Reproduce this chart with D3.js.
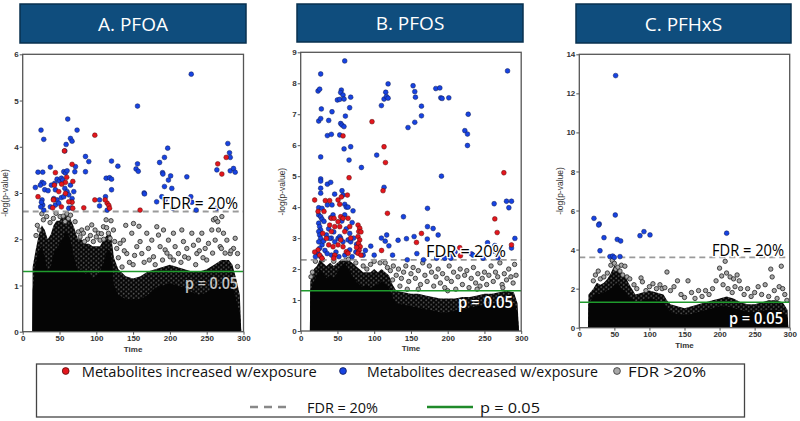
<!DOCTYPE html>
<html><head><meta charset="utf-8">
<script src="https://cdn.jsdelivr.net/npm/d3@7"></script>
<style>
body{margin:0;background:#fff;}
svg{display:block;}
</style></head>
<body>
<svg id="chart" width="800" height="421"></svg>
<script>
// ---------- DATA ----------
const xTicks = [0, 50, 100, 150, 200, 250, 300];
const yTicksA = [0, 1, 2, 3, 4, 5, 6];
const yTicksB = [0, 1, 2, 3, 4, 5, 6, 7, 8, 9];
const yTicksC = [0, 2, 4, 6, 8, 10, 12, 14];
const titles = ["A. PFOA", "B. PFOS", "C. PFHxS"];
const fdrLevels = [2.6, 2.3, 3.6];
const pLevel = 1.301;
const legendLabels = ["Metabolites increased w/exposure", "Metabolites decreased w/exposure", "FDR >20%", "FDR = 20%", "p = 0.05"];

// Panel A: PFOA
const aDec = [[20.8,3.45],[27.2,3.45],[26.3,3.23],[28.6,3.21],[24.0,3.17],[29.9,3.07],[34.5,3.05],[39.0,3.17],[43.5,3.21],[46.7,3.30],[49.9,3.26],[52.6,3.32],[54.4,3.28],[55.8,3.46],[58.1,3.43],[60.3,3.48],[57.2,3.10],[60.3,3.03],[44.4,3.07],[42.2,2.88],[46.7,2.85],[52.6,2.90],[55.8,2.92],[62.6,2.96],[67.1,2.88],[69.4,3.03],[70.8,3.46],[71.7,3.57],[64.9,3.17],[66.2,2.81],[26.3,2.85],[27.2,2.74],[28.6,2.63],[37.6,2.70],[44.4,2.74],[49.0,2.78],[62.6,2.67],[66.2,2.68],[59.0,4.05],[57.2,3.91],[64.9,4.18],[67.1,4.12],[73.9,4.36],[61.2,4.60],[17.2,3.12],[24.9,4.36],[28.6,4.16],[37.6,3.56],[25.5,2.80],[24.5,2.70],
[85.3,3.79],[89.8,3.68],[85.3,3.46],[104.4,2.85],[104.4,2.72],[112.5,2.92],[113.4,3.32],[118.0,3.33],[120.7,3.30],[120.7,3.07],[120.7,3.69],[129.3,3.58],[114.8,2.63],[156,4.88],[156,3.63],[154,3.52],[157,3.47],[165,3.00],[165.5,2.98],[186,3.66],[190,3.44],[190.5,3.41],[192.6,3.77],[197,3.97],[198,3.28],[201,3.37],[192.6,3.14],[202.6,3.10],[189,2.92],[193.5,2.85],[182,2.81],[204,2.67],[223,3.35],[229,5.57],[228.4,2.92],[229.8,2.80],[235.7,2.63],[263.8,2.67],[263.8,3.50],[278.7,4.07],[281,3.87],[282,3.77],[282,3.48],[286.4,3.53],[288.7,3.45],[281,2.85]];
const aInc = [[20.8,2.92],[44.4,3.44],[43.1,3.17],[49.0,3.03],[42.2,2.86],[58.1,3.23],[56.7,3.91],[67.1,3.62],[68.1,3.25],[67.1,2.80],[62.6,2.81],[52.6,2.70],[40.8,2.68],[83.0,2.68],[58.1,2.99],[41.7,2.85],[53.0,3.19],[59.8,3.34],[68.0,2.67],[98,4.25],[98,2.85],[114.8,2.78],[117,2.73],[118,2.67],[112,2.85],[159.5,2.63],[265,3.63],[270.6,3.41],[276.5,3.77],[288.7,2.76]];
const aGrey = [[19.9,2.30],[22.7,2.20],[18.1,2.08],[28.1,2.42],[32.6,2.49],[37.2,2.36],[41.7,2.45],[45.3,2.56],[50.8,2.49],[57.6,2.38],[62.1,2.45],[71.2,2.38],[75.7,2.16],[80.2,2.20],[82.5,2.13],[87.9,2.24],[93.8,2.31],[98.3,2.20],[102.9,2.13],[105.1,1.98],[109.7,2.27],[113.3,2.42],[116.5,2.13],[118.7,2.02],[123.3,2.20],[127.8,1.80],[132.3,1.91],[136.9,1.98],[141.4,1.69],[148.2,2.13],[150.5,2.34],[155,1.84],[159.5,1.95],[161.8,1.69],[168.6,2.13],[170.9,1.80],[175.4,1.98],[177.7,1.62],[182.2,2.27],[184.5,2.09],[186.7,1.84],[191.3,2.20],[193.5,1.77],[198,1.98],[200.3,1.62],[204.8,2.13],[207.1,1.84],[211.6,1.69],[216.2,2.20],[218.4,1.95],[223,1.80],[225.2,1.59],[229.8,2.13],[232,1.87],[236.6,1.69],[238.8,1.98],[243.4,2.13],[247.9,1.80],[252.4,1.91],[256.9,2.20],[259.2,2.42],[261.5,1.98],[266,2.20],[268.3,1.84],[270.6,2.49],[272.8,2.13],[277.4,1.98],[281.9,1.69],[286.4,1.80],[288.7,2.02],[291.9,1.69],[291.9,1.41],
[60,2.55],[65,2.52],[55,2.50],[26,2.55],[120,2.40],[140,2.30],[158,2.28],[262,2.45],[265,2.38],[88,2.00],[96,1.95],[100,2.05],[110,2.00],[130,1.60],[145,1.50],[165,1.50],[190,1.55],[215,1.50],[235,1.45],[250,1.55],[275,1.70],[283,1.75],[245,1.60],[205,1.55],[180,1.45],[150,1.45],[135,1.40],
[78,2.05],[84,1.95],[92,2.08],[107,2.12],[114,2.25],[125,1.95],[138,1.75],[152,1.65],[172,1.55],[196,1.70],[220,1.62],[240,1.75],[258,1.70],[270,1.80]];
const aHalo = [[13,0],[13.5,1.4],[18,1.8],[22,2.1],[26,2.3],[30,2.2],[34,2.0],[38,2.1],[42,2.3],[46,2.4],[50,2.4],[54,2.5],[58,2.5],[62,2.5],[66,2.4],[70,2.25],[75,2.0],[80,2.0],[85,1.9],[90,1.9],[95,1.85],[100,1.85],[105,1.85],[110,2.0],[115,2.1],[120,2.1],[124,1.6],[130,1.35],[140,1.2],[150,1.15],[160,1.2],[170,1.3],[180,1.35],[190,1.4],[200,1.45],[210,1.4],[220,1.35],[230,1.3],[240,1.3],[250,1.35],[260,1.45],[270,1.55],[280,1.55],[285,1.45],[290,1.15],[295,0.8],[297,0]];
const aCore = [[13,0],[13.5,0.9],[18,1.5],[22,1.75],[26,1.85],[30,1.6],[34,1.3],[38,1.4],[42,1.7],[46,1.8],[50,1.9],[54,2.0],[58,2.15],[62,2.1],[66,1.9],[70,1.6],[75,1.3],[80,1.35],[85,1.25],[90,1.3],[95,1.15],[100,1.2],[105,1.3],[110,1.5],[115,1.8],[120,1.7],[124,1.0],[130,0.8],[140,0.7],[150,0.7],[160,0.7],[170,0.8],[180,0.95],[190,1.0],[200,1.05],[210,1.0],[220,0.95],[230,0.85],[240,0.8],[250,0.85],[260,0.95],[270,1.05],[280,1.1],[285,1.0],[290,0.7],[295,0.4],[297,0]];

// Panel B: PFOS
const bDec = [[59.9,8.72],[27.2,8.30],[23.6,7.75],[25.8,7.81],[281.4,8.40],[55.3,7.78],[54.4,7.70],[49.9,7.46],[53.1,7.48],[57.6,7.62],[59.0,7.49],[68.0,7.55],[28.1,7.17],[24.5,6.78],[27.2,6.86],[38.1,6.80],[42.6,7.08],[66.6,7.21],[60.8,6.94],[54.4,6.70],[56.2,6.65],[58.9,6.60],[36.3,6.31],[41.7,6.35],[53.1,6.33],[59.0,5.88],[68.0,5.95],[27.2,5.62],[65.8,5.52],[82.6,5.28],[27.2,4.91],[27.2,4.84],[36.3,4.74],[40.8,4.80],[27.2,4.61],[27.2,4.45],[56.2,4.53],[57.6,4.39],[46.2,4.42],[24.5,3.98],[29.0,3.96],[36.3,4.07],[42.6,4.07],[59.9,4.09],[62.1,4.00],[64.4,4.00],[71.2,3.88],[59.9,3.75],[24.5,3.75],[27.2,3.69],[29.0,3.61],[31.7,3.54],[40.8,3.66],[44.0,3.75],
[103.4,5.68],[109.8,7.28],[113.4,7.49],[115.7,7.71],[118.9,7.98],[116.6,7.57],[118.9,7.52],[113.4,4.64],[146,6.57],[155.2,6.74],[152.9,7.92],[155.2,7.73],[156.1,7.55],[164.3,7.26],[164.3,6.95],[183.8,7.83],[189.3,7.85],[190.6,7.53],[192.4,7.51],[201.5,7.53],[223.3,6.47],[226.9,6.36],[227.9,7.00],[226.9,5.99],[191.5,5.00],[139.8,3.69],[172.5,3.96],[172.5,3.37],[180.2,3.31],[187,3.10],[172.2,2.97],[154.3,3.05],[143.9,2.98],[132.5,2.93],[117,3.10],[115,2.90],[254.2,2.85],[264.1,2.76],[262.3,2.58],[263.2,4.11],[280,4.19],[286.8,4.19],[283.2,3.98],[286.8,2.68],[291.4,2.99],[232.4,2.49],[234.6,2.45],[268.6,2.36],[267.8,2.43],[206.5,2.50],[196,2.35],[248.2,2.35],[204.2,2.35],[95.3,2.74],[109.8,3.00],[120,2.75],[125,2.45],[100,2.45],[145,2.30],[158,2.50],[167,2.30],[185,2.35],[210,2.55],
[24.5,3.48],[25.8,3.37],[27.2,3.26],[24.5,3.21],[25.8,3.10],[27.2,2.99],[24.5,2.88],[29.0,2.78],[25.8,2.67],[23.6,2.50],[27.2,2.40],[41.7,3.00],[39.4,2.99],[46.3,2.88],[50.8,2.99],[53.1,3.05],[54.4,2.99],[57.6,2.88],[64.4,2.94],[66.7,3.15],[68,2.88],[66.7,2.62],[35,3.10],[33,2.60],[48,2.55],[60,2.45],[70,2.40],[75,2.55],[72,3.00],[20,2.40],[85,2.45],[88,2.60],[62,3.30],[70,3.50],[45,3.20],[38,3.30],[31,2.90],[56,3.55],[76,2.80],[52,2.40],[42,2.45],[36,2.50]];
const bInc = [[97,6.76],[113.4,5.95],[115.3,5.44],[112,4.53],[118,3.80],[65.8,4.95],[57.6,6.30],[19,4.23],[33.5,4.21],[39.4,4.21],[50.8,4.23],[53.1,4.09],[55.3,4.33],[63.5,4.39],[31.7,3.86],[23.6,3.86],[41.7,3.64],[45.4,3.64],[54.4,3.69],[264.1,3.62],[267.3,3.18],[276.4,5.11],[286.8,2.78],[216.4,2.69],[217.3,2.43],[157.5,2.86],[164.3,3.15],
[34.9,2.99],[38.1,2.78],[44.0,2.72],[50.8,2.78],[54.4,2.94],[57.6,2.72],[62.1,2.56],[64.4,2.51],[46.3,2.45],[23.6,2.62],[25.8,2.45],[29.0,2.35],[41.7,3.21],[46.3,3.37],[53.1,3.37],[57.6,3.64],[64.4,3.64],[66.7,3.37],[59.9,3.21],[39.4,3.42],[50.8,3.53],
[78,3.42],[80.3,3.32],[79,3.21],[78,3.05],[80.3,2.94],[78.5,2.83],[81,2.72],[79.5,2.61],[78,2.51],[82,2.45],[82,3.20],[76,2.70],[19,2.55],[30,3.15],[68,3.00],[110,2.60],[45,2.35]];
const bGrey = [[115,2.2],[118,2.05],[122,1.95],[126,2.1],[130,1.8],[133,2.0],[137,1.7],[140,1.9],[143,2.1],[147,1.6],[150,1.85],[153,2.05],[156,1.7],[160,1.95],[163,1.5],[166,2.2],[169,1.8],[172,1.6],[175,2.1],[178,1.9],[181,1.45],[184,1.75],[187,2.0],[190,1.55],[193,1.85],[196,1.4],[199,1.7],[202,2.1],[205,1.6],[208,1.9],[211,1.35],[214,1.75],[217,2.0],[220,1.5],[223,1.8],[226,1.95],[229,1.4],[232,1.7],[235,2.05],[238,1.55],[241,1.85],[244,1.45],[247,1.7],[250,1.9],[253,1.5],[256,1.8],[259,2.1],[262,1.6],[265,1.9],[268,1.75],[271,2.2],[274,1.5],[277,1.85],[280,1.65],[283,2.0],[286,1.75],[289,1.55],[291,2.15],[293,1.8],[160,1.35],[200,1.3],[240,1.35],[275,1.4],[125,1.65],[135,1.45],[145,1.35],
[20,2.25],[30,2.3],[45,2.25],[65,2.32],[75,2.2],[85,2.1],[95,2.15],[100,2.25],[108,2.2],[90,2.0],[14,1.75],[16,1.9]];
const bHalo = [[12.5,0],[13,1.6],[18,2.0],[22,2.1],[26,2.3],[30,2.2],[35,2.1],[40,2.2],[45,2.1],[50,2.2],[55,2.3],[60,2.35],[65,2.3],[70,2.2],[75,2.1],[80,2.0],[85,1.9],[90,1.9],[95,1.9],[100,2.0],[105,1.9],[110,2.0],[115,1.9],[120,1.8],[125,1.5],[130,1.3],[140,1.25],[150,1.2],[160,1.2],[170,1.15],[180,1.1],[190,1.05],[200,1.05],[210,1.05],[220,1.1],[230,1.1],[240,1.15],[250,1.2],[260,1.2],[270,1.25],[280,1.3],[290,1.25],[295,0.9],[297,0]];
const bCore = [[12.5,0],[13,1.3],[18,1.6],[22,1.8],[26,2.0],[30,1.9],[35,1.7],[40,1.8],[45,1.7],[50,1.9],[55,2.1],[60,2.2],[65,2.0],[70,1.8],[75,1.6],[80,1.5],[85,1.4],[90,1.5],[95,1.4],[100,1.45],[105,1.5],[110,1.6],[115,1.5],[120,1.4],[125,1.1],[130,0.9],[140,0.85],[150,0.8],[160,0.75],[170,0.7],[180,0.65],[190,0.6],[200,0.6],[210,0.65],[220,0.7],[230,0.75],[240,0.8],[250,0.85],[260,0.9],[270,0.9],[280,0.95],[290,0.9],[295,0.6],[297,0]];

// Panel C: PFHxS
const cDec = [[20.9,5.60],[28.5,5.31],[27.6,5.26],[29.5,3.94],[35.2,4.61],[43.7,3.64],[47.5,3.67],[49.9,3.60],[51.3,5.77],[54.2,4.52],[59.0,4.44],[51.8,12.91],[58.0,3.64],[86.5,4.71],[92.2,4.92],[100.8,4.75],[210.1,4.84]];
const cInc = [];
const cGrey = [[20,2.4],[23,2.7],[27,2.9],[30,2.5],[35,2.6],[40,2.8],[45,3.2],[47,3.45],[50,3.3],[52,3.0],[55,3.1],[58,2.9],[60,3.2],[62,2.7],[65,3.15],[68,2.6],[72,2.5],[78,2.2],[82,2.0],[88,2.55],[90,2.35],[95,1.9],[100,2.1],[105,2.25],[110,2.0],[115,2.2],[118,2.0],[122,2.05],[125,2.85],[130,1.9],[135,2.1],[140,2.4],[145,1.7],[150,1.55],[155,2.4],[160,1.8],[165,1.5],[170,1.9],[175,1.6],[180,1.9],[185,1.7],[190,2.0],[195,2.4],[200,3.05],[203,2.65],[205,2.2],[208,3.4],[210,2.8],[212,2.0],[215,2.6],[218,1.8],[220,2.5],[222,2.1],[225,2.7],[228,2.4],[230,2.0],[235,1.7],[240,2.0],[245,1.6],[250,1.8],[255,2.1],[260,1.7],[265,2.2],[270,1.6],[273,3.0],[275,2.6],[278,1.9],[282,1.5],[285,2.1],[288,3.15],[290,2.0],[293,1.7],[296,1.4]];
const cHalo = [[12.5,0],[13,1.7],[20,2.0],[25,2.3],[30,2.2],[35,2.3],[40,2.5],[45,2.8],[50,3.2],[55,3.0],[60,2.8],[65,2.7],[70,2.3],[75,2.0],[80,1.7],[90,1.8],[100,1.9],[110,1.8],[120,1.7],[125,1.4],[130,1.2],[140,1.1],[150,1.0],[160,1.1],[170,1.2],[180,1.3],[190,1.4],[200,1.5],[210,1.6],[220,1.5],[230,1.3],[240,1.2],[250,1.2],[260,1.3],[270,1.4],[280,1.4],[290,1.3],[297,0.9],[298,0]];
const cCore = [[12.5,0],[13,1.2],[20,1.6],[25,1.8],[30,1.7],[35,1.8],[40,1.9],[45,2.0],[50,2.2],[55,2.3],[60,2.0],[65,1.9],[70,1.6],[75,1.5],[80,1.3],[90,1.4],[100,1.5],[110,1.4],[120,1.3],[125,1.0],[130,0.8],[140,0.7],[150,0.65],[160,0.7],[170,0.8],[180,0.9],[190,1.0],[200,1.1],[210,1.1],[220,1.0],[230,0.9],[240,0.8],[250,0.8],[260,0.85],[270,0.9],[280,0.9],[290,0.8],[297,0.5],[298,0]];

// ---------- LAYOUT / STYLE ----------
const RED = "#e3161d", BLUE = "#1743e2", GREY_FILL = "#a8a8a8";
const panels = [
  {title: titles[0], yMax: 6, yTicks: yTicksA, fdr: fdrLevels[0], dec: aDec, inc: aInc, grey: aGrey, halo: aHalo, core: aCore,
   x0: 22.7, x1: 243.5, yB: 331.7, yT: 54.3, head: [20, 4, 226, 39], ylabX: 8,
   fdrText: [162, 209, 76], pText: [185, 289, 53], pOpacity: 0.75},
  {title: titles[1], yMax: 9, yTicks: yTicksB, fdr: fdrLevels[1], dec: bDec, inc: bInc, grey: bGrey, halo: bHalo, core: bCore,
   x0: 300.7, x1: 521.2, yB: 331, yT: 52.3, head: [297, 4, 226, 38], ylabX: 285,
   fdrText: [426, 257, 80], pText: [458, 308, 55], pOpacity: 1},
  {title: titles[2], yMax: 14, yTicks: yTicksC, fdr: fdrLevels[2], dec: cDec, inc: cInc, grey: cGrey, halo: cHalo, core: cCore,
   x0: 579.3, x1: 789.7, yB: 327.7, yT: 54.3, head: [576, 4, 215, 39], ylabX: 563,
   fdrText: [712, 256, 72], pText: [729, 324, 54], pOpacity: 1}
];

const svg = d3.select("#chart");
const defs = svg.append("defs");
const pat = defs.append("pattern").attr("id", "dense").attr("patternUnits", "userSpaceOnUse")
  .attr("width", 5).attr("height", 4.4);
pat.append("rect").attr("width", 5).attr("height", 4.4).attr("fill", "#050505");
[[1.2, 1.1], [3.7, 3.3]].forEach(([cx, cy]) => {
  pat.append("circle").attr("cx", cx).attr("cy", cy).attr("r", 1.3)
    .attr("fill", "#505050").attr("stroke", "#000").attr("stroke-width", 0.7);
});

panels.forEach((p, i) => {
  const x = d3.scaleLinear().domain([0, 300]).range([p.x0, p.x1]);
  const y = d3.scaleLinear().domain([0, p.yMax]).range([p.yB, p.yT]);
  const g = svg.append("g");
  const clipId = "clip" + i;
  defs.append("clipPath").attr("id", clipId).append("rect")
    .attr("x", p.x0).attr("y", p.yT).attr("width", p.x1 - p.x0).attr("height", p.yB - p.yT);

  // header
  const [hx, hy, hw, hh] = p.head;
  g.append("rect").attr("x", hx).attr("y", hy).attr("width", hw).attr("height", hh)
    .attr("fill", "#0f4d7d").attr("stroke", "#08304f").attr("stroke-width", 1.5);
  g.append("text").attr("x", hx + hw / 2).attr("y", hy + hh / 2 + 7).attr("text-anchor", "middle")
    .attr("fill", "#fff").attr("font-family", "Open Sans, sans-serif").attr("font-size", 19)
    .text(p.title);

  const plot = g.append("g").attr("clip-path", `url(#${clipId})`);
  const area = d3.area().x(d => x(d[0])).y0(y(0)).y1(d => y(d[1]));
  plot.append("path").datum(p.halo).attr("d", area).attr("fill", "url(#dense)");
  plot.append("path").datum(p.core).attr("d", area).attr("fill", "#050505");

  plot.selectAll(".grey").data(p.grey).join("circle")
    .attr("cx", d => x(d[0])).attr("cy", d => y(d[1])).attr("r", 2.2)
    .attr("fill", GREY_FILL).attr("stroke", "#222").attr("stroke-width", 0.8);

  // reference lines
  plot.append("line").attr("x1", p.x0).attr("x2", p.x1).attr("y1", y(p.fdr)).attr("y2", y(p.fdr))
    .attr("stroke", "#9a9a9a").attr("stroke-width", 1.8).attr("stroke-dasharray", "6,4");
  plot.append("line").attr("x1", p.x0).attr("x2", p.x1).attr("y1", y(pLevel)).attr("y2", y(pLevel))
    .attr("stroke", "#1f9a2c").attr("stroke-width", 1.6);

  plot.selectAll(".dec").data(p.dec).join("circle")
    .attr("cx", d => x(d[0])).attr("cy", d => y(d[1])).attr("r", 2.4)
    .attr("fill", BLUE).attr("stroke", "#101c55").attr("stroke-width", 0.5);
  plot.selectAll(".inc").data(p.inc).join("circle")
    .attr("cx", d => x(d[0])).attr("cy", d => y(d[1])).attr("r", 2.4)
    .attr("fill", RED).attr("stroke", "#5a0d0d").attr("stroke-width", 0.5);

  // overlay labels
  const [fx, fy, fw] = p.fdrText;
  g.append("text").attr("x", fx).attr("y", fy).attr("textLength", fw).attr("lengthAdjust", "spacingAndGlyphs")
    .attr("font-family", "Open Sans, sans-serif").attr("font-size", 16).attr("fill", "#000")
    .attr("stroke", "#fff").attr("stroke-width", 2.5).attr("paint-order", "stroke")
    .text("FDR = 20%");
  const [px, py, pw] = p.pText;
  g.append("text").attr("x", px).attr("y", py).attr("textLength", pw).attr("lengthAdjust", "spacingAndGlyphs")
    .attr("font-family", "Open Sans, sans-serif").attr("font-size", 16).attr("font-weight", 600)
    .attr("fill", "#fff").attr("opacity", p.pOpacity)
    .text("p = 0.05");

  // frame
  g.append("rect").attr("x", p.x0).attr("y", p.yT).attr("width", p.x1 - p.x0).attr("height", p.yB - p.yT)
    .attr("fill", "none").attr("stroke", "#555").attr("stroke-width", 1.3);

  // axes
  const yAxis = d3.axisLeft(y).tickValues(p.yTicks).tickFormat(d3.format("d")).tickSize(3).tickSizeOuter(0);
  const ya = g.append("g").attr("transform", `translate(${p.x0},0)`).call(yAxis);
  const xAxis = d3.axisBottom(x).tickValues(xTicks).tickFormat(d3.format("d")).tickSize(3).tickSizeOuter(0);
  const xa = g.append("g").attr("transform", `translate(0,${p.yB})`).call(xAxis);
  [ya, xa].forEach(a => {
    a.select(".domain").remove();
    a.selectAll(".tick line").attr("stroke", "#555");
    a.selectAll(".tick text").attr("fill", "#333").attr("font-family", "Liberation Sans, Arial, sans-serif")
      .attr("font-size", 8).attr("font-weight", "bold");
  });
  ya.selectAll(".tick text").attr("x", -4);
  xa.selectAll(".tick text").attr("y", 4);

  g.append("text").attr("x", (p.x0 + p.x1) / 2).attr("y", p.yB + 20).attr("text-anchor", "middle")
    .attr("font-family", "Liberation Sans, Arial, sans-serif").attr("font-size", 8).attr("font-weight", "bold")
    .attr("fill", "#333").text("Time");
  g.append("text").attr("transform", `translate(${p.ylabX},${(p.yB + p.yT) / 2}) rotate(-90)`)
    .attr("text-anchor", "middle").attr("font-family", "Liberation Sans, Arial, sans-serif").attr("font-size", 8.5)
    .attr("fill", "#333").text("-log(p-value)");
});

// ---------- LEGEND ----------
const lg = svg.append("g");
lg.append("rect").attr("x", 36.5).attr("y", 364).attr("width", 708).attr("height", 53)
  .attr("fill", "#fff").attr("stroke", "#444").attr("stroke-width", 1.3);
const legFont = "Open Sans, sans-serif";
const row1 = [
  {cx: 65.7, fill: RED, stroke: "#5a0d0d", tx: 81.7, tw: 235, label: legendLabels[0]},
  {cx: 343, fill: BLUE, stroke: "#101c55", tx: 367, tw: 231, label: legendLabels[1]},
  {cx: 617, fill: GREY_FILL, stroke: "#333", tx: 628, tw: 78, label: legendLabels[2]}
];
row1.forEach(r => {
  lg.append("circle").attr("cx", r.cx).attr("cy", 371).attr("r", 3.4).attr("fill", r.fill)
    .attr("stroke", r.stroke).attr("stroke-width", 0.8);
  lg.append("text").attr("x", r.tx).attr("y", 376.5).attr("font-family", legFont).attr("font-size", 15)
    .attr("fill", "#111").attr("textLength", r.tw).attr("lengthAdjust", "spacingAndGlyphs").text(r.label);
});
lg.append("line").attr("x1", 250).attr("x2", 290).attr("y1", 407).attr("y2", 407)
  .attr("stroke", "#888").attr("stroke-width", 2.5).attr("stroke-dasharray", "8,6");
lg.append("text").attr("x", 307).attr("y", 412.5).attr("font-family", legFont).attr("font-size", 15)
  .attr("fill", "#111").attr("textLength", 71).attr("lengthAdjust", "spacingAndGlyphs").text(legendLabels[3]);
lg.append("line").attr("x1", 427).attr("x2", 473).attr("y1", 407).attr("y2", 407)
  .attr("stroke", "#1f8a2a").attr("stroke-width", 2.5);
lg.append("text").attr("x", 480).attr("y", 412.5).attr("font-family", legFont).attr("font-size", 15)
  .attr("fill", "#111").attr("textLength", 60).attr("lengthAdjust", "spacingAndGlyphs").text(legendLabels[4]);
</script>
</body></html>
